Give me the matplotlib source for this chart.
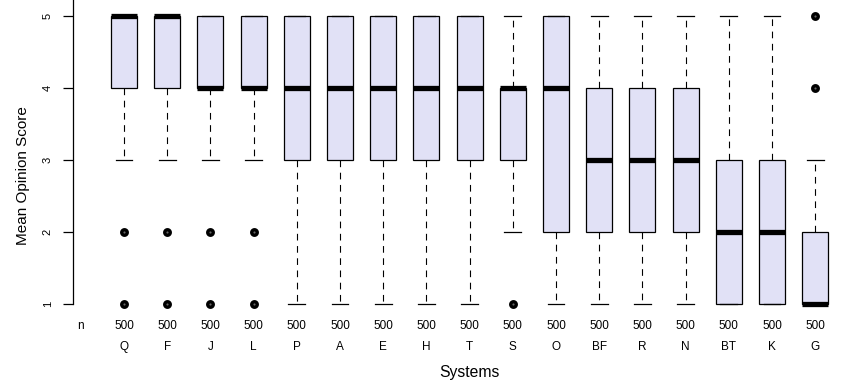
import matplotlib
matplotlib.use('Agg')
import matplotlib.pyplot as plt
import matplotlib.transforms as mtransforms

plt.rcParams['font.family'] = ['Liberation Sans', 'DejaVu Sans']

# Box statistics
systems = ['Q', 'F', 'J', 'L', 'P', 'A', 'E', 'H', 'T', 'S', 'O', 'BF', 'R', 'N', 'BT', 'K', 'G']
n_counts = [500, 500, 500, 500, 500, 500, 500, 500, 500, 500, 500, 500, 500, 500, 500, 500, 500]
whislo = [3, 3, 3, 3, 1, 1, 1, 1, 1, 2, 1, 1, 1, 1, 1, 1, 1]
q1 = [4, 4, 4, 4, 3, 3, 3, 3, 3, 3, 2, 2, 2, 2, 1, 1, 1]
med = [5, 5, 4, 4, 4, 4, 4, 4, 4, 4, 4, 3, 3, 3, 2, 2, 1]
q3 = [5, 5, 5, 5, 5, 5, 5, 5, 5, 4, 5, 4, 4, 4, 3, 3, 2]
whishi = [5, 5, 5, 5, 5, 5, 5, 5, 5, 5, 5, 5, 5, 5, 5, 5, 3]
outliers = [[2, 1], [2, 1], [2, 1], [2, 1], [], [], [], [], [], [1], [], [], [], [], [], [], [4, 5]]

stats = []
for i, name in enumerate(systems):
    stats.append({'label': name, 'whislo': whislo[i], 'q1': q1[i], 'med': med[i],
                  'q3': q3[i], 'whishi': whishi[i], 'fliers': outliers[i]})

fig = plt.figure(figsize=(8.68, 3.88), dpi=100)
ax = fig.add_axes([73 / 868, 1 - 311 / 388, (864 - 73) / 868, 311 / 388])

positions = list(range(1, len(systems) + 1))
ax.bxp(stats, positions=positions, widths=0.6, capwidths=0.39, patch_artist=True,
       showfliers=True,
       boxprops=dict(facecolor='#e1e1f6', edgecolor='black', linewidth=0.9),
       medianprops=dict(color='black', linewidth=3.8, solid_capstyle='butt'),
       whiskerprops=dict(color='black', linewidth=0.8, linestyle=(0, (6, 5))),
       capprops=dict(color='black', linewidth=0.9),
       flierprops=dict(marker='o', markersize=4.0, markerfacecolor='#666666',
                       markeredgecolor='black', markeredgewidth=2.4, clip_on=False))

ax.set_xlim(-0.18, 18.13)
ax.set_ylim(0.9, 5.22)

for s in ['top', 'right', 'bottom']:
    ax.spines[s].set_visible(False)
ax.spines['left'].set_bounds(1, 5.22)
ax.spines['left'].set_linewidth(0.9)

ax.set_xticks([])
ax.set_yticks([1, 2, 3, 4, 5])
ax.set_yticklabels(['1', '2', '3', '4', '5'], rotation=90, va='center', fontsize=8)
ax.tick_params(axis='y', length=7.5, width=0.9, pad=7)
ax.set_ylabel('Mean Opinion Score', fontsize=11)
ax.yaxis.set_label_coords(-0.054, 0.437)

trans = mtransforms.blended_transform_factory(ax.transData, ax.transAxes)
ax.text(0, -0.048, 'n', transform=trans, ha='center', va='center', fontsize=8.5)
for i, name in enumerate(systems):
    ax.text(positions[i], -0.048, str(n_counts[i]), transform=trans,
            ha='center', va='center', fontsize=8.5)
    ax.text(positions[i], -0.116, name, transform=trans,
            ha='center', va='center', fontsize=8.5)

ax.text(9, -0.197, 'Systems', transform=trans, ha='center', va='center', fontsize=11.3)

fig.savefig('out.png', dpi=100)
